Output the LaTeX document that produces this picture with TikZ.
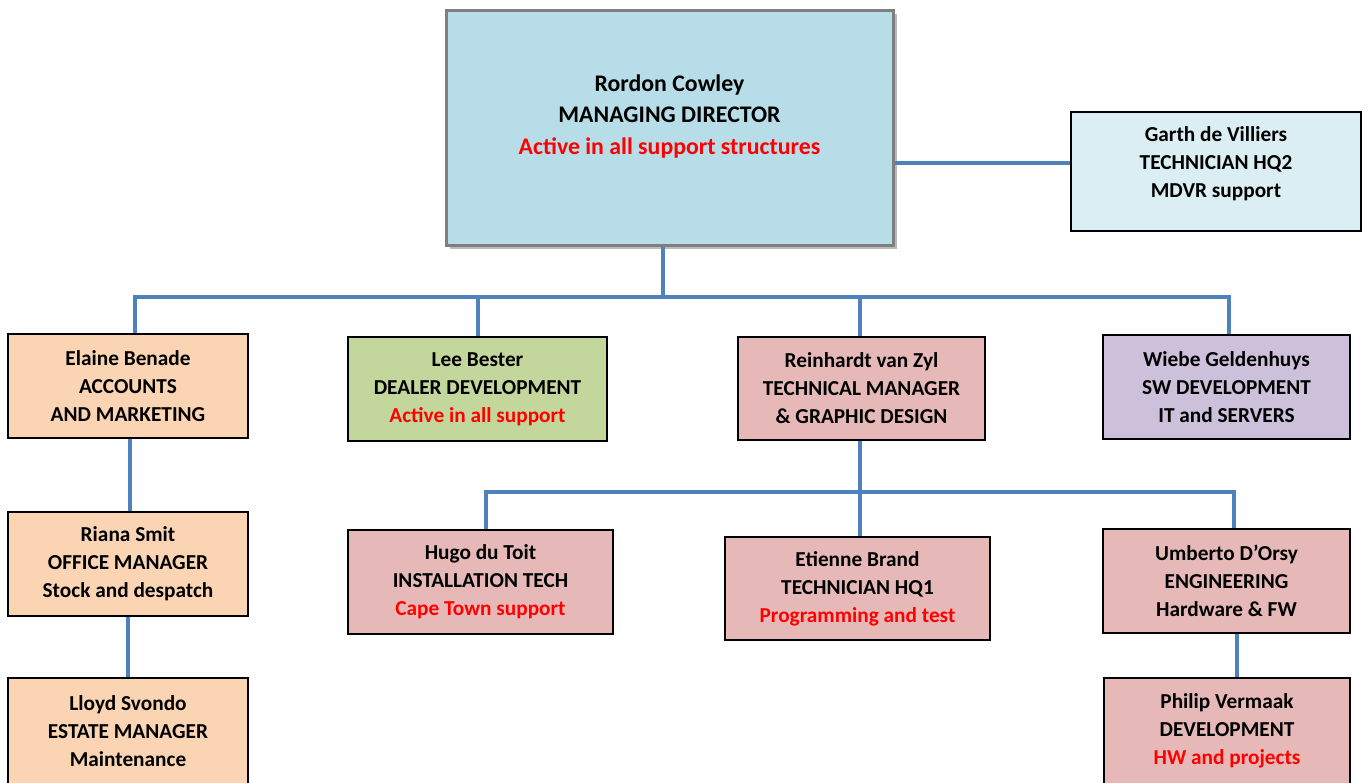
\documentclass[tikz,border=0pt]{standalone}
\usepackage{fontspec}
\setmainfont{Carlito}
\usetikzlibrary{shadows}
\definecolor{conncol}{HTML}{4F81BD}
\definecolor{mdfill}{HTML}{B7DDE8}
\definecolor{ltblue}{HTML}{DAEEF3}
\definecolor{orangefill}{HTML}{FBD4B4}
\definecolor{greenfill}{HTML}{C3D69B}
\definecolor{pinkfill}{HTML}{E6B9B8}
\definecolor{purplefill}{HTML}{CCC0DA}
\definecolor{mdborder}{HTML}{7F7F7F}
\definecolor{redtxt}{HTML}{FF0000}
\newcommand{\rt}[1]{\textcolor{redtxt}{#1}}
\newcommand{\up}[2]{\raisebox{#1}[\height][\depth]{#2}}
\begin{document}
\begin{tikzpicture}[x=1pt,y=-1pt,
  box/.style={draw=black, line width=1.4pt, align=center, inner sep=0pt,
    font=\bfseries\fontsize{21.3}{28}\selectfont},
  mdbox/.style={draw=mdborder, line width=3pt, align=center, inner sep=0pt, fill=mdfill,
    font=\bfseries\fontsize{23.8}{31.5}\selectfont,
    drop shadow={shadow xshift=4pt, shadow yshift=-4pt, opacity=0.45, fill=black!60}},
  conn/.style={draw=conncol, line width=4pt}]
\useasboundingbox (0,0) rectangle (1370,782);
\fill[white] (0,0) rectangle (1370,782);

\node[mdbox, minimum width=447, minimum height=235] (md) at (669.5,127.5)
  {\up{11pt}{\begin{tabular}{@{}c@{}}Rordon Cowley\\MANAGING DIRECTOR\\\rt{Active in all support structures}\end{tabular}}};
\node[box, fill=ltblue, minimum width=290, minimum height=119] (garth) at (1216,171.5)
  {\up{7.5pt}{\begin{tabular}{@{}c@{}}Garth de Villiers\\TECHNICIAN HQ2\\MDVR support\end{tabular}}};

\node[box, fill=orangefill, minimum width=240, minimum height=104] (elaine) at (128,386)
  {Elaine Benade\\ACCOUNTS\\AND MARKETING};
\node[box, fill=greenfill, minimum width=259, minimum height=104] (lee) at (477.5,389)
  {Lee Bester\\DEALER DEVELOPMENT\\\rt{Active in all support}};
\node[box, fill=pinkfill, minimum width=247, minimum height=103] (reinhardt) at (861.5,388.5)
  {Reinhardt van Zyl\\TECHNICAL MANAGER\\\& GRAPHIC DESIGN};
\node[box, fill=purplefill, minimum width=247, minimum height=104] (wiebe) at (1226.5,387)
  {Wiebe Geldenhuys\\SW DEVELOPMENT\\IT and SERVERS};

\node[box, fill=orangefill, minimum width=240, minimum height=104] (riana) at (128,564)
  {Riana Smit\\OFFICE MANAGER\\Stock and despatch};
\node[box, fill=orangefill, minimum width=240, minimum height=106] (lloyd) at (128,731)
  {Lloyd Svondo\\ESTATE MANAGER\\Maintenance};

\node[box, fill=pinkfill, minimum width=265, minimum height=104] (hugo) at (480.5,582)
  {Hugo du Toit\\INSTALLATION TECH\\\rt{Cape Town support}};
\node[box, fill=pinkfill, minimum width=265, minimum height=103] (etienne) at (857.5,588.5)
  {Etienne Brand\\TECHNICIAN HQ1\\\rt{Programming and test}};
\node[box, fill=pinkfill, minimum width=247, minimum height=104] (umberto) at (1226.5,581)
  {Umberto D’Orsy\\ENGINEERING\\Hardware \& FW};
\node[box, fill=pinkfill, minimum width=246, minimum height=106] (philip) at (1227,731)
  {Philip Vermaak\\DEVELOPMENT\\\rt{HW and projects}};

% connectors
\coordinate (b1) at (663,297);
\coordinate (b2) at (860,492);
\draw[conn] ([yshift=-35.5pt]md.east) -- ([yshift=-35.5pt]md.east -| garth.west);
\draw[conn] ([xshift=-6.5pt]md.south) -- (b1);
\draw[conn] ([xshift=7pt]elaine.north) |- (b1) -| ([xshift=2.5pt]wiebe.north);
\draw[conn] ([xshift=0.5pt]lee.north) -- ([xshift=0.5pt]lee.north |- b1);
\draw[conn] ([xshift=-1.5pt]reinhardt.north) -- ([xshift=-1.5pt]reinhardt.north |- b1);
\draw[conn] ([xshift=2pt]elaine.south) -- ([xshift=2pt]elaine.south |- riana.north);
\draw[conn] (riana.south) -- (lloyd.north);
\draw[conn] ([xshift=-1.5pt]reinhardt.south) -- (b2);
\draw[conn] ([xshift=5.5pt]hugo.north) |- (b2) -| ([xshift=7.5pt]umberto.north);
\draw[conn] ([xshift=2.5pt]etienne.north) -- ([xshift=2.5pt]etienne.north |- b2);
\draw[conn] ([xshift=10.5pt]umberto.south) -- ([xshift=10.5pt]umberto.south |- philip.north);
\end{tikzpicture}
\end{document}
